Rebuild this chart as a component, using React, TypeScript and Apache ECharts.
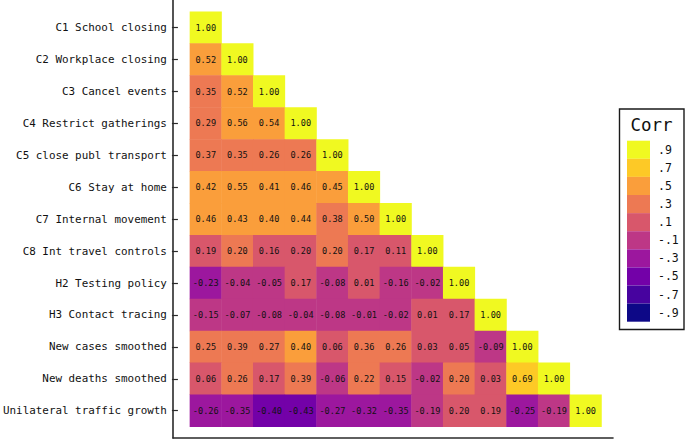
import React, { useEffect, useRef } from "react";
import * as echarts from "echarts";

const variables = [
  "C1 School closing",
  "C2 Workplace closing",
  "C3 Cancel events",
  "C4 Restrict gatherings",
  "C5 close publ transport",
  "C6 Stay at home",
  "C7 Internal movement",
  "C8 Int travel controls",
  "H2 Testing policy",
  "H3 Contact tracing",
  "New cases smoothed",
  "New deaths smoothed",
  "Unilateral traffic growth",
];

// lower-triangular correlations, row i holds columns 0..i
const corrRows = [
  [1.0],
  [0.52, 1.0],
  [0.35, 0.52, 1.0],
  [0.29, 0.56, 0.54, 1.0],
  [0.37, 0.35, 0.26, 0.26, 1.0],
  [0.42, 0.55, 0.41, 0.46, 0.45, 1.0],
  [0.46, 0.43, 0.4, 0.44, 0.38, 0.5, 1.0],
  [0.19, 0.201, 0.16, 0.198, 0.202, 0.17, 0.11, 1.0],
  [-0.23, -0.04, -0.05, 0.17, -0.08, 0.01, -0.16, -0.02, 1.0],
  [-0.15, -0.07, -0.08, -0.04, -0.08, -0.01, -0.02, 0.01, 0.17, 1.0],
  [0.25, 0.39, 0.27, 0.4, 0.06, 0.36, 0.26, 0.03, 0.05, -0.09, 1.0],
  [0.06, 0.26, 0.17, 0.39, -0.06, 0.22, 0.15, -0.02, 0.201, 0.03, 0.69, 1.0],
  [-0.26, -0.35, -0.403, -0.43, -0.27, -0.32, -0.35, -0.19, 0.198, 0.19, -0.25, -0.19, 1.0],
];

const binLabels = ["-.9", "-.7", "-.5", "-.3", "-.1", ".1", ".3", ".5", ".7", ".9"];
const binEdges = [-1, -0.8, -0.6, -0.4, -0.2, 0, 0.2, 0.4, 0.6, 0.8, 1];
const binColors = [
  "#0D0887",
  "#47039F",
  "#7301A8",
  "#9C179E",
  "#BD3786",
  "#D8576B",
  "#ED7953",
  "#FA9E3B",
  "#FDC926",
  "#F0F921",
];

const MONO = "'DejaVu Sans Mono', monospace";

export default function App() {
  const ref = useRef<HTMLDivElement>(null);

  useEffect(() => {
    if (!ref.current) return;
    const chart = echarts.init(ref.current, undefined, { renderer: "svg" });

    const data: [number, number, number][] = [];
    corrRows.forEach((row, i) => {
      row.forEach((v, j) => data.push([j, i, v]));
    });

    const pieces = binLabels.map((label, k) => {
      const p: any = { gte: binEdges[k], label, color: binColors[k] };
      if (k === binLabels.length - 1) p.lte = binEdges[k + 1];
      else p.lt = binEdges[k + 1];
      return p;
    });

    const option: any = {
      animation: false,
      backgroundColor: "#ffffff",
      grid: [
        { left: 185, top: 11.7, width: 416.5, height: 415, containLabel: false },
        { left: 173, top: -2, width: 440, height: 440, containLabel: false },
      ],
      xAxis: [
        {
          type: "category",
          gridIndex: 0,
          data: variables,
          show: false,
        },
        {
          type: "value",
          gridIndex: 1,
          min: 0,
          max: 1,
          axisLine: { show: true, lineStyle: { color: "#2a2a2a", width: 1.6 } },
          axisTick: { show: false },
          axisLabel: { show: false },
          splitLine: { show: false },
        },
      ],
      yAxis: [
        {
          type: "category",
          gridIndex: 0,
          data: variables,
          inverse: true,
          offset: 12,
          axisLine: { show: false },
          axisTick: {
            show: true,
            alignWithLabel: true,
            length: 6,
            lineStyle: { color: "#2a2a2a", width: 1.2 },
          },
          axisLabel: {
            margin: 11,
            fontFamily: MONO,
            fontSize: 10.9,
            color: "#111",
          },
          splitLine: { show: false },
        },
        {
          type: "value",
          gridIndex: 1,
          min: 0,
          max: 1,
          axisLine: { show: true, lineStyle: { color: "#2a2a2a", width: 1.6 } },
          axisTick: { show: false },
          axisLabel: { show: false },
          splitLine: { show: false },
        },
      ],
      visualMap: {
        type: "piecewise",
        seriesIndex: 0,
        dimension: 2,
        pieces,
        orient: "vertical",
        align: "left",
        left: 627,
        top: 140.7,
        itemWidth: 23,
        itemHeight: 18.1,
        itemGap: 0,
        textGap: 8,
        padding: 0,
        itemSymbol: "rect",
        selectedMode: false,
        hoverLink: false,
        textStyle: { fontFamily: MONO, fontSize: 11.5, color: "#111" },
      },
      graphic: [
        {
          type: "rect",
          shape: { x: 619.5, y: 109, width: 64.5, height: 220.5 },
          style: { fill: "none", stroke: "#1a1a1a", lineWidth: 1.4 },
          z: 1,
        },
        {
          type: "text",
          x: 651.5,
          y: 125,
          style: {
            text: "Corr",
            fontFamily: MONO,
            fontSize: 17.5,
            fill: "#111",
            align: "center",
            verticalAlign: "middle",
          },
        },
      ],
      series: [
        {
          type: "heatmap",
          xAxisIndex: 0,
          yAxisIndex: 0,
          data,
          label: {
            show: true,
            formatter: (p: any) => Number(p.value[2]).toFixed(2),
            fontFamily: MONO,
            fontSize: 8.6,
            color: "#111",
          },
          itemStyle: { borderWidth: 0 },
          emphasis: { disabled: true },
        },
      ],
    };

    chart.setOption(option);
    return () => chart.dispose();
  }, []);

  return (
    <div
      ref={ref}
      style={{ position: "fixed", left: 0, top: 0, width: 685, height: 439, background: "#fff" }}
    />
  );
}
